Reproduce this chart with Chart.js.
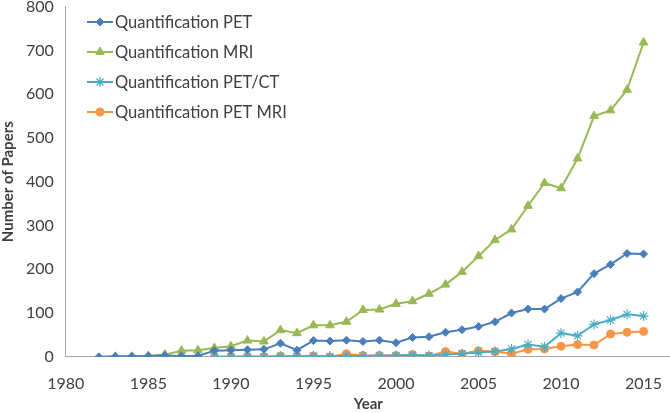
<!DOCTYPE html>
<html>
<head>
<meta charset="utf-8">
<script src="https://cdn.jsdelivr.net/npm/chart.js@4/dist/chart.umd.min.js"></script>
<style>
  html, body { margin: 0; padding: 0; background: #fff; overflow: hidden; }
  #wrap { width: 677px; height: 423px; margin-top: -10px; position: relative; }
</style>
</head>
<body>
<div id="wrap"><canvas id="c"></canvas></div>
<script>
// ── Data ───────────────────────────────────────────────────
const years = [1982, 1983, 1984, 1985, 1986, 1987, 1988, 1989, 1990, 1991,
  1992, 1993, 1994, 1995, 1996, 1997, 1998, 1999, 2000, 2001,
  2002, 2003, 2004, 2005, 2006, 2007, 2008, 2009, 2010, 2011,
  2012, 2013, 2014, 2015];

const petValues = [0, 1, 1, 2, 3, 2, 2, 14, 15, 16,
  17, 31, 15, 37, 36, 38, 35, 38, 32, 44,
  46, 56, 62, 69, 80, 100, 109, 109, 133, 148,
  190, 211, 236, 235];

const mriValues = [null, 0, 0, 2, 5, 14, 15, 20, 24, 37,
  35, 61, 54, 72, 72, 80, 107, 108, 121, 127,
  144, 165, 194, 230, 267, 291, 345, 397, 385, 453,
  550, 563, 610, 718];

const petCtValues = [null, null, null, null, null, null, null, 0, 0, 1,
  0, 1, 1, 2, 1, 2, 2, 3, 3, 4,
  3, 5, 7, 10, 12, 18, 28, 23, 54, 48,
  74, 84, 97, 93];

const petMriValues = [null, null, null, null, null, null, null, 0, 0, 0,
  0, 2, 1, 2, 0, 7, 3, 3, 3, 5,
  2, 12, 7, 14, 12, 7, 17, 18, 24, 28,
  27, 52, 56, 58];

const seriesLabels = ['Quantification PET', 'Quantification MRI', 'Quantification PET/CT', 'Quantification PET MRI'];
const yTicks = [0, 100, 200, 300, 400, 500, 600, 700, 800];
const xTicks = [1980, 1985, 1990, 1995, 2000, 2005, 2010, 2015];

const toPoints = vals => years.map((y, i) => ({ x: y, y: vals[i] })).filter(p => p.y !== null);

const FONT = "Lato, 'Open Sans', sans-serif";
const TEXT = '#404040';
const SHIFT = 10; // canvas is moved up by this much (see #wrap)

// ── Legend drawn inside the plot area ──────────────────────
const insideLegend = {
  id: 'insideLegend',
  afterDraw(chart) {
    const ctx = chart.ctx;
    const rows = [22, 52, 82, 112];
    ctx.save();
    chart.data.datasets.forEach((ds, i) => {
      const y = rows[i] + SHIFT;
      ctx.strokeStyle = ds.borderColor;
      ctx.fillStyle = ds.borderColor;
      ctx.lineWidth = 2;
      ctx.beginPath();
      ctx.moveTo(87, y);
      ctx.lineTo(113, y);
      ctx.stroke();
      ctx.lineWidth = ds.pointBorderWidth;
      Chart.helpers.drawPoint(ctx, {
        pointStyle: ds.pointStyle,
        radius: ds.pointRadius,
        borderWidth: ds.pointBorderWidth
      }, 100, y);
      ctx.fillStyle = TEXT;
      ctx.font = '16.5px ' + FONT;
      ctx.textBaseline = 'middle';
      ctx.textAlign = 'left';
      ctx.fillText(ds.label, 115, y + 1);
    });
    ctx.restore();
  }
};

function makeSet(label, vals, color, style, radius) {
  return {
    label,
    data: toPoints(vals),
    borderColor: color,
    backgroundColor: color,
    pointBackgroundColor: color,
    pointBorderColor: color,
    borderWidth: 2,
    pointStyle: style,
    pointRadius: radius,
    pointBorderWidth: style === 'star' ? 1.2 : 1,
    tension: 0
  };
}

new Chart(document.getElementById('c'), {
  type: 'line',
  data: {
    datasets: [
      makeSet(seriesLabels[0], petValues, '#4A7EBB', 'rectRot', 4),
      makeSet(seriesLabels[1], mriValues, '#98B954', 'triangle', 5),
      makeSet(seriesLabels[2], petCtValues, '#4BACC6', 'star', 5),
      makeSet(seriesLabels[3], petMriValues, '#F79646', 'circle', 4)
    ]
  },
  options: {
    responsive: true,
    maintainAspectRatio: false,
    animation: false,
    layout: { padding: { left: -1, right: 0, top: 0, bottom: 0 } },
    plugins: { legend: { display: false }, tooltip: { enabled: false } },
    scales: {
      x: {
        type: 'linear',
        min: 1980,
        max: 2016.65,
        afterBuildTicks: axis => { axis.ticks = xTicks.map(v => ({ value: v })); },
        grid: { display: false, drawTicks: true, tickLength: 5, color: '#A6A6A6' },
        border: { color: '#A6A6A6', width: 1 },
        ticks: { color: TEXT, font: { family: FONT, size: 16 }, padding: 12, maxRotation: 0, callback: v => String(v) },
        title: { display: true, text: 'Year', color: TEXT, font: { family: FONT, size: 15, weight: 'bold' }, padding: { top: -10, bottom: 0 } }
      },
      y: {
        min: 0,
        max: 800,
        afterBuildTicks: axis => { axis.ticks = yTicks.map(v => ({ value: v })); },
        grid: { display: false, drawTicks: true, tickLength: 5, color: '#A6A6A6' },
        border: { color: '#A6A6A6', width: 1 },
        ticks: { color: TEXT, font: { family: FONT, size: 16 }, padding: 7 },
        title: { display: true, text: 'Number of Papers', color: TEXT, font: { family: FONT, size: 15, weight: 'bold' }, padding: { top: 0, bottom: 2 } }
      }
    }
  },
  plugins: [insideLegend]
});
</script>
</body>
</html>
